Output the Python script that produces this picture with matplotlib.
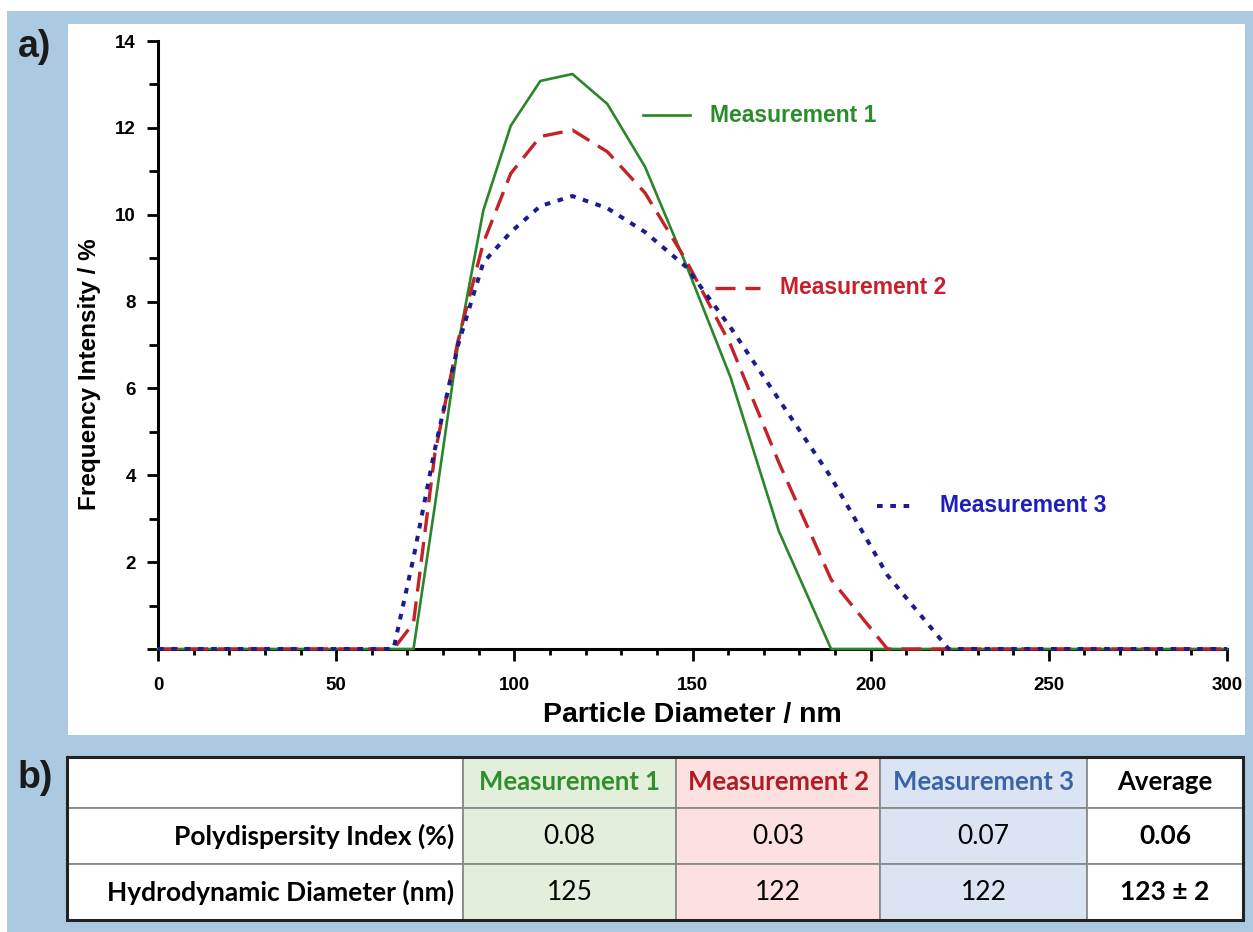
import matplotlib
matplotlib.use('Agg')
import matplotlib.pyplot as plt
from matplotlib.patches import Rectangle
from matplotlib.lines import Line2D
from matplotlib.ticker import MultipleLocator

# ------------------------------------------------------------------------------
# size distribution (nm vs. % intensity)
diameter = [0, 66.1, 71.7, 77.7, 84.2, 91.3, 99.0, 107.3, 116.3, 126.1,
            136.7, 148.2, 160.7, 174.2, 188.9, 204.7, 221.9, 240.6, 300]
meas1 = [0, 0, 0, 3.3, 7.0, 10.1, 12.05, 13.08, 13.24, 12.55,
         11.1, 8.85, 6.25, 2.72, 0, 0, 0, 0, 0]
meas2 = [0, 0, 0.6, 4.5, 7.1, 9.35, 10.95, 11.8, 11.95, 11.45,
         10.5, 8.95, 7.0, 4.3, 1.6, 0, 0, 0, 0]
meas3 = [0, 0, 2.1, 4.6, 7.0, 8.9, 9.6, 10.2, 10.43, 10.15,
         9.6, 8.8, 7.4, 5.75, 3.95, 1.7, 0, 0, 0]
names = ['Measurement 1', 'Measurement 2', 'Measurement 3']

xticks = [0, 50, 100, 150, 200, 250, 300]
yticks = [0, 2, 4, 6, 8, 10, 12, 14]
ytick_labels = ['', '2', '4', '6', '8', '10', '12', '14']

# table b)
col_heads = ['', 'Measurement 1', 'Measurement 2', 'Measurement 3', 'Average']
row_heads = ['Polydispersity Index (%)', 'Hydrodynamic Diameter (nm)']
pdi = ['0.08', '0.03', '0.07', '0.06']
hyd = ['125', '122', '122', '123 ± 2']

# colours
line_cols = ['#2b852b', '#c42128', '#1c1c8c']
text_cols = ['#2a8c2a', '#c8202a', '#1e1ebe']
head_cols = ['black', '#2e8f2e', '#b01c22', '#3b64a8', 'black']
cell_cols = ['white', '#e3efda', '#fde1e1', '#dbe4f3', 'white']
bg_blue = '#abc9e1'

W, H = 1253, 932
ARIAL = 'Liberation Sans'
CALIBRI = 'Lato'

fig = plt.figure(figsize=(W / 100, H / 100), dpi=100)
fig.patch.set_facecolor('white')

# background layer in pixel coordinates
bg = fig.add_axes([0, 0, 1, 1], zorder=0)
bg.set_xlim(0, W)
bg.set_ylim(H, 0)
bg.axis('off')
bg.add_patch(Rectangle((7, 11), W - 7, H - 11, color=bg_blue, lw=0))
bg.add_patch(Rectangle((68, 24), 1245 - 68, 735 - 24, color='white', lw=0))
bg.text(35, 47, 'a)', fontsize=27, fontweight='bold', family=ARIAL,
        color='#1a1a1a', ha='center', va='center')
bg.text(35, 778, 'b)', fontsize=27, fontweight='bold', family=ARIAL,
        color='#1a1a1a', ha='center', va='center')

# ------------------------------------------------------------------------------
# a) the distribution plot
ax = fig.add_axes([158 / W, 1 - 649 / H, (1227 - 158) / W, (649 - 41) / H], zorder=1)
ax.patch.set_alpha(0)

styles = [dict(ls='-', lw=1.9),
          dict(ls=(0, (6.0, 3.0)), lw=2.4),
          dict(ls=(0, (1.4, 1.9)), lw=2.9)]
for ys, c, st in zip([meas1, meas2, meas3], line_cols, styles):
    ax.plot(diameter, ys, color=c, clip_on=False, zorder=3, **st)

ax.set_xlim(0, 300)
ax.set_ylim(0, 14)
ax.set_xticks(xticks)
ax.set_yticks(yticks)
ax.set_yticklabels(ytick_labels)
ax.xaxis.set_minor_locator(MultipleLocator(10))
ax.yaxis.set_minor_locator(MultipleLocator(1))
for s in ['top', 'right']:
    ax.spines[s].set_visible(False)
for s in ['left', 'bottom']:
    ax.spines[s].set_linewidth(2.2)
ax.tick_params(axis='x', which='major', direction='out', length=8.5, width=2, pad=12)
ax.tick_params(axis='x', which='minor', direction='out', length=4.5, width=2)
ax.tick_params(axis='y', which='major', direction='out', length=8, width=2, pad=8)
ax.tick_params(axis='y', which='minor', direction='out', length=6.5, width=2)
for lab in ax.get_xticklabels() + ax.get_yticklabels():
    lab.set_fontfamily(ARIAL)
    lab.set_fontweight('bold')
    lab.set_fontsize(13.5)

bg.text(692, 715, 'Particle Diameter / nm', fontsize=20.5, fontweight='bold',
        family=ARIAL, ha='center', va='center')
bg.text(90, 374, 'Frequency Intensity / %', fontsize=17.5, fontweight='bold',
        family=ARIAL, ha='center', va='center', rotation=90)

# labels next to the curves
key_pos = [(643, 690, 115, 710), (715, 760, 288, 780), (877, 910, 506, 940)]
for (x0, x1, yy, xt), name, c, tc, st in zip(key_pos, names, line_cols, text_cols, styles):
    bg.add_line(Line2D([x0, x1], [yy, yy], color=c, **st))
    bg.text(xt, yy, name, fontsize=16.5, fontweight='bold', family=ARIAL,
            color=tc, ha='left', va='center')

# ------------------------------------------------------------------------------
# b) the table
col_edges = [67, 463, 676, 880, 1087, 1243]
row_edges = [757, 808, 864, 920]
rows = [col_heads, [row_heads[0]] + pdi, [row_heads[1]] + hyd]

tab = fig.add_axes([0, 0, 1, 1], zorder=2)
tab.set_xlim(0, W)
tab.set_ylim(H, 0)
tab.axis('off')

for j in range(len(col_edges) - 1):
    x0, x1 = col_edges[j], col_edges[j + 1]
    for i in range(len(row_edges) - 1):
        y0, y1 = row_edges[i], row_edges[i + 1]
        tab.add_patch(Rectangle((x0, y0), x1 - x0, y1 - y0, facecolor=cell_cols[j],
                                edgecolor='#8a8a8a', lw=1.3))
        txt = rows[i][j]
        if not txt:
            continue
        yc = (y0 + y1) / 2
        if i == 0:
            tab.text((x0 + x1) / 2, yc, txt, fontsize=18.5, fontweight='bold',
                     family=CALIBRI, color=head_cols[j], ha='center', va='center')
        elif j == 0:
            tab.text(x1 - 9, yc, txt, fontsize=19, fontweight='bold',
                     family=CALIBRI, color='black', ha='right', va='center')
        else:
            tab.text((x0 + x1) / 2, yc, txt, fontsize=19,
                     fontweight='bold' if j == 4 else 'normal',
                     family=CALIBRI, color='black', ha='center', va='center')

tab.add_patch(Rectangle((col_edges[0], row_edges[0]), col_edges[-1] - col_edges[0],
                        row_edges[-1] - row_edges[0], fill=False,
                        edgecolor='#222222', lw=2.2))

fig.savefig('out.png', dpi=100)
